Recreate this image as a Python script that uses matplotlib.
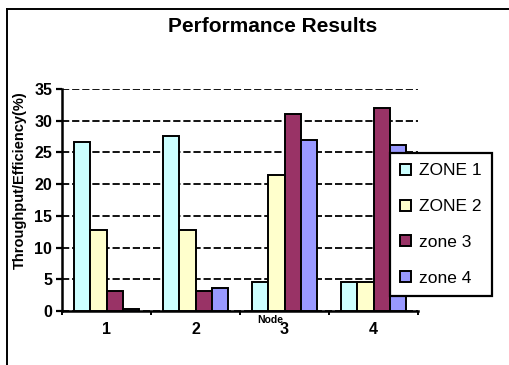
import numpy as np
import matplotlib.pyplot as plt
from matplotlib.patches import Patch
from matplotlib.lines import Line2D

plt.rcParams['font.family'] = ['Liberation Sans', 'DejaVu Sans']

nodes = ['1', '2', '3', '4']
zones = ['ZONE 1', 'ZONE 2', 'zone 3', 'zone 4']
zone1 = [26.7, 27.6, 4.6, 4.6]
zone2 = [12.7, 12.7, 21.5, 4.6]
zone3 = [3.1, 3.1, 31.0, 32.0]
zone4 = [0.3, 3.7, 27.0, 26.1]
colours = ('#CCFFFF', '#FFFFCC', '#993366', '#9999FF')

fig = plt.figure(figsize=(5.09, 3.65), dpi=100)
ax = fig.add_axes([62/509, 1-311/365, 356/509, 222/365])

x = np.arange(len(nodes))
w = 1/5.5
for i, vals in enumerate([zone1, zone2, zone3, zone4]):
    ax.bar(x + (i-1.5)*w, vals, width=w, color=colours[i],
           edgecolor='black', linewidth=1.4, zorder=3)

ax.set_xlim(-0.5, 3.5)
ax.set_ylim(0, 35)
ax.set_yticks(range(0, 36, 5))
ax.yaxis.grid(True, color='black', linestyle=(0, (4, 1.6)), linewidth=1.3)
ax.set_axisbelow(True)

for s in ('top', 'right'):
    ax.spines[s].set_visible(False)
for s in ('left', 'bottom'):
    ax.spines[s].set_linewidth(1.8)

ax.set_xticks(x)
ax.set_xticklabels(nodes, fontsize=11.5, fontweight='bold')
ax.set_xticks([-0.5, 0.5, 1.5, 2.5, 3.5], minor=True)
ax.tick_params(axis='x', which='major', length=0, pad=8)
ax.tick_params(axis='x', which='minor', length=3, width=1.4, direction='out')
ax.tick_params(axis='y', length=4, width=1.6, direction='out', pad=3)
for t in ax.get_yticklabels():
    t.set_fontsize(11.5)
    t.set_fontweight('bold')

handles = [Patch(facecolor=c, edgecolor='black', linewidth=1.4) for c in colours]
leg = ax.legend(handles, zones, loc='upper left',
                bbox_to_anchor=(390/509, 1-153/365), bbox_transform=fig.transFigure,
                fontsize=12.5, frameon=True, fancybox=False, shadow=False,
                handlelength=0.6, handleheight=0.6, handletextpad=0.45,
                labelspacing=1.2, borderpad=0.6, borderaxespad=0)
leg.get_frame().set_edgecolor('black')
leg.get_frame().set_linewidth(1.6)
leg.get_frame().set_alpha(None)
leg.get_frame().set_facecolor('white')

fig.text(273/509, 1-27/365, 'Performance Results', ha='center', va='center',
         fontsize=15, fontweight='bold')
fig.text(20/509, 1-180/365, 'Throughput/Efficiency(%)', rotation=90,
         ha='center', va='center', fontsize=10.5, fontweight='bold')
fig.text(270/509, 1-320/365, 'Node', ha='center', va='center',
         fontsize=7.5, fontweight='bold')

# outer chart frame
fig.add_artist(Line2D([7/509, 1], [1-9/365, 1-9/365], color='black', linewidth=1.4))
fig.add_artist(Line2D([7/509, 7/509], [0, 1-9/365], color='black', linewidth=1.4))

plt.savefig('out.png', dpi=100)
